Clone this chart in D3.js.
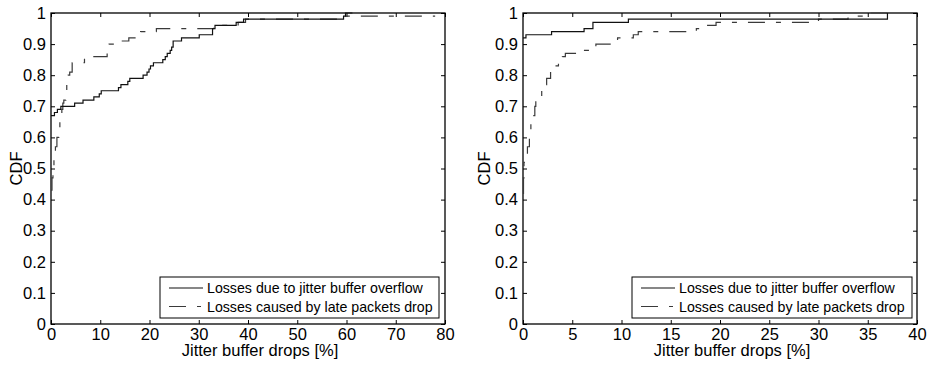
<!DOCTYPE html>
<html><head><meta charset="utf-8">
<script src="https://cdn.jsdelivr.net/npm/d3@7"></script>
<style>
body{margin:0;background:#fff;}
svg{display:block;font-family:"Liberation Sans",Arial,Helvetica,sans-serif;}
</style></head><body>
<svg id="c" width="933" height="366"></svg>
<script>
// ---- data ----
const yTicks = [0,0.1,0.2,0.3,0.4,0.5,0.6,0.7,0.8,0.9,1];
const yTickLabels = ["0","0.1","0.2","0.3","0.4","0.5","0.6","0.7","0.8","0.9","1"];
const leftXTicks = [0,10,20,30,40,50,60,70,80];
const rightXTicks = [0,5,10,15,20,25,30,35,40];
const legendLabels = ["Losses due to jitter buffer overflow","Losses caused by late packets drop"];
const xTitle = "Jitter buffer drops [%]";
const yTitle = "CDF";

// left panel
const leftOverflowX = [0,0.7,1.3,2.0,4.8,6.5,8.7,9.8,10.2,13.7,14.2,15.6,16.0,18.7,19.5,19.9,20.2,20.8,22.7,23.2,23.6,24.2,24.5,24.8,26.5,30.1,32.8,33.3,37.6,39.1,59.4,59.8,61.2];
const leftOverflowY = [0.67,0.68,0.69,0.70,0.71,0.72,0.73,0.74,0.75,0.76,0.77,0.78,0.79,0.80,0.81,0.82,0.83,0.84,0.85,0.86,0.87,0.88,0.89,0.91,0.92,0.93,0.95,0.96,0.97,0.98,0.99,1.00,1.00];
const leftLateX = [0,0.2,0.4,0.6,0.9,1.2,1.6,1.8,2.0,2.2,2.4,2.6,3.0,3.2,3.5,3.8,4.3,6.8,11.4,11.8,13.6,15.8,18.2,21.4,33.0,38.0,39.5,59.0,78.0];
const leftLateY = [0.43,0.47,0.50,0.53,0.57,0.60,0.62,0.65,0.67,0.69,0.71,0.72,0.75,0.78,0.80,0.81,0.84,0.86,0.88,0.90,0.91,0.92,0.94,0.95,0.96,0.97,0.98,0.99,0.99];

// right panel
const rightOverflowX = [0,0.3,2.9,6.2,7.1,10.7,37.0];
const rightOverflowY = [0.92,0.93,0.94,0.95,0.97,0.98,1.00];
const rightLateX = [0,0.05,0.1,0.45,0.65,0.8,0.9,1.2,1.3,1.9,2.1,2.4,2.8,3.6,4.0,4.3,5.8,7.4,9.6,11.2,11.7,17.6,18.6,19.6,30.0,33.0,35.0,37.0];
const rightLateY = [0.42,0.47,0.52,0.57,0.62,0.65,0.67,0.70,0.72,0.75,0.77,0.79,0.83,0.85,0.86,0.87,0.88,0.90,0.92,0.93,0.94,0.95,0.96,0.97,0.98,0.99,1.00,1.00];

// ---- drawing ----
(function(){
const svg = d3.select("#c");
const yTop = 13, yBot = 324;
const FS = 16.5;
const panels = [
  {x0:51, x1:445, xMax:80, xTicks:leftXTicks, solid:[leftOverflowX,leftOverflowY], dash:[leftLateX,leftLateY], leg:{x:160,w:279}, yl:29},
  {x0:523, x1:917, xMax:40, xTicks:rightXTicks, solid:[rightOverflowX,rightOverflowY], dash:[rightLateX,rightLateY], leg:{x:632,w:280}, yl:33}
];
const DASH = "17,11,5,11";

panels.forEach(p => {
  const x = d3.scaleLinear().domain([0,p.xMax]).range([p.x0,p.x1]);
  const y = d3.scaleLinear().domain([0,1]).range([yBot,yTop]);
  const g = svg.append("g");
  const tl = 4;

  const ax = g.append("g").attr("transform",`translate(0,${yBot})`)
    .call(d3.axisBottom(x).tickValues(p.xTicks).tickSizeInner(-tl).tickSizeOuter(0).tickPadding(4).tickFormat(d3.format("d")));
  const axT = g.append("g").attr("transform",`translate(0,${yTop})`)
    .call(d3.axisTop(x).tickValues(p.xTicks).tickSizeInner(-tl).tickSizeOuter(0).tickFormat(""));
  const ay = g.append("g").attr("transform",`translate(${p.x0},0)`)
    .call(d3.axisLeft(y).tickValues(yTicks).tickSizeInner(-tl).tickSizeOuter(0).tickPadding(5).tickFormat((d,i)=>yTickLabels[i]));
  const ayR = g.append("g").attr("transform",`translate(${p.x1},0)`)
    .call(d3.axisRight(y).tickValues(yTicks).tickSizeInner(-tl).tickSizeOuter(0).tickFormat(""));
  [ax,axT,ay,ayR].forEach(a=>{
    a.select(".domain").remove();
    a.selectAll("line").attr("stroke","#000").attr("stroke-width",1);
    a.selectAll("text").attr("font-size",FS).attr("fill","#000").attr("font-family","Liberation Sans, Arial, sans-serif");
  });
  g.append("rect").attr("x",p.x0).attr("y",yTop).attr("width",p.x1-p.x0).attr("height",yBot-yTop)
    .attr("fill","none").attr("stroke","#000").attr("stroke-width",1.3);

  const line = d3.line().x(d=>x(d[0])).y(d=>y(d[1])).curve(d3.curveStepAfter);
  const solidPts = p.solid[0].map((v,i)=>[v,p.solid[1][i]]);
  const dashPts = p.dash[0].map((v,i)=>[v,p.dash[1][i]]);
  g.append("path").attr("d",line(dashPts)).attr("fill","none").attr("stroke","#3a3a3a").attr("stroke-width",1.2).attr("stroke-dasharray",DASH);
  g.append("path").attr("d",line(solidPts)).attr("fill","none").attr("stroke","#111").attr("stroke-width",1.2);

  g.append("text").attr("x",(p.x0+p.x1)/2+12).attr("y",356).attr("text-anchor","middle")
    .attr("font-size",FS).text(xTitle);
  g.append("text").attr("transform",`translate(${p.x0-p.yl},${(yTop+yBot)/2}) rotate(-90)`).attr("text-anchor","middle")
    .attr("font-size",FS).text(yTitle);

  const lg = g.append("g");
  lg.append("rect").attr("x",p.leg.x).attr("y",277).attr("width",p.leg.w).attr("height",41)
    .attr("fill","#fff").attr("stroke","#000").attr("stroke-width",1);
  lg.append("line").attr("x1",p.leg.x+9).attr("x2",p.leg.x+43).attr("y1",288).attr("y2",288).attr("stroke","#111").attr("stroke-width",1.2);
  lg.append("line").attr("x1",p.leg.x+9).attr("x2",p.leg.x+43).attr("y1",306.5).attr("y2",306.5).attr("stroke","#3a3a3a").attr("stroke-width",1.2).attr("stroke-dasharray","17,11,4,20");
  lg.append("text").attr("x",p.leg.x+47).attr("y",293).attr("font-size",14.2).text(legendLabels[0]);
  lg.append("text").attr("x",p.leg.x+47).attr("y",312).attr("font-size",14.2).text(legendLabels[1]);
});
})();
</script>
</body></html>
